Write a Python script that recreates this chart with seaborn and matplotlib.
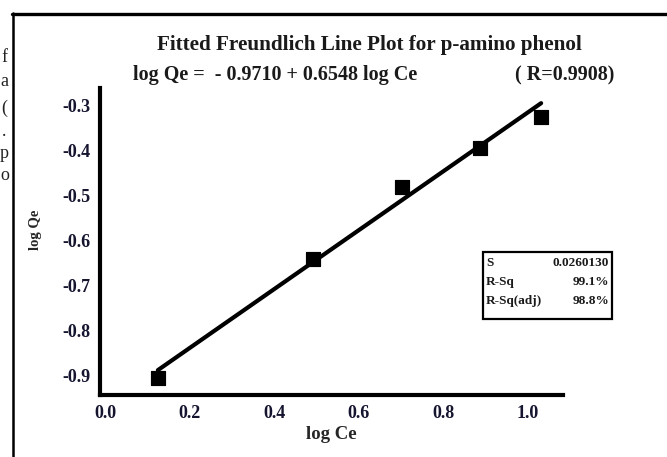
import matplotlib
matplotlib.use("Agg")
import matplotlib.pyplot as plt
from matplotlib.lines import Line2D
from matplotlib.patches import Rectangle
import seaborn as sns
import pandas as pd
import numpy as np

# ---- data ----
log_ce = [0.125, 0.492, 0.702, 0.887, 1.031]
log_qe = [-0.907, -0.642, -0.482, -0.396, -0.327]
intercept = -0.9710
slope = 0.6548
x_ticks = [0.0, 0.2, 0.4, 0.6, 0.8, 1.0]
y_ticks = [-0.9, -0.8, -0.7, -0.6, -0.5, -0.4, -0.3]
stat_names = ["S", "R-Sq", "R-Sq(adj)"]
stat_values = ["0.0260130", "99.1%", "98.8%"]
side_letters = ["f", "a", "(", ".", "p", "o"]

W, H = 667, 457
def fx(x):
    return x / W
def fy(y):
    return 1 - y / H

sns.set_theme(style="white")
plt.rcParams["font.family"] = ["Liberation Serif", "DejaVu Serif"]

fig = plt.figure(figsize=(W / 100, H / 100), dpi=100)
ax = fig.add_axes([fx(100), fy(395), (563 - 100) / W, (395 - 88) / H])

df = pd.DataFrame({"log Ce": log_ce, "log Qe": log_qe})
xfit = np.array([min(log_ce), max(log_ce)])
fit = pd.DataFrame({"x": xfit, "y": intercept + slope * xfit})

sns.lineplot(data=fit, x="x", y="y", ax=ax, color="black", linewidth=3.0)
sns.scatterplot(data=df, x="log Ce", y="log Qe", ax=ax, marker="s", s=110,
                color="black", edgecolor="black", zorder=5)

ax.set_xlim(-0.0118, 1.0827)
ax.set_ylim(-0.9444, -0.2622)
ax.set_xticks(x_ticks)
ax.set_xticklabels([f"{v:.1f}" for v in x_ticks])
ax.set_yticks(y_ticks)
ax.set_yticklabels([f"{v:.1f}" for v in y_ticks])
for s in ["top", "right"]:
    ax.spines[s].set_visible(False)
for s in ["left", "bottom"]:
    ax.spines[s].set_linewidth(3)
    ax.spines[s].set_color("black")
ax.tick_params(axis="both", direction="out", length=3, width=3, color="black",
               labelsize=13, labelcolor="#151530", pad=4)
for lab in ax.get_xticklabels() + ax.get_yticklabels():
    lab.set_fontweight("bold")
ax.set_xlabel("log Ce", fontsize=13.5, fontweight="bold", labelpad=3)
ax.set_ylabel("")
fig.text(fx(36), fy(230), "log Qe", rotation=90, fontsize=10.5, fontweight="bold",
         ha="center", va="center")

# titles
fig.text(fx(369), fy(45), "Fitted Freundlich Line Plot for p-amino phenol",
         fontsize=15.2, fontweight="bold", ha="center", va="center", color="#1a1a1a")
fig.text(fx(133), fy(75), "log Qe =  - 0.9710 + 0.6548 log Ce",
         fontsize=14.5, fontweight="bold", ha="left", va="center", color="#1a1a1a")
fig.text(fx(614), fy(75), "( R=0.9908)",
         fontsize=14.5, fontweight="bold", ha="right", va="center", color="#1a1a1a")

# stats box
bx0, by0, bx1, by1 = 483, 252, 612, 319
fig.add_artist(Rectangle((fx(bx0), fy(by1)), (bx1 - bx0) / W, (by1 - by0) / H,
                         transform=fig.transFigure, fill=False,
                         edgecolor="black", linewidth=1.6))
rows_y = [263, 282, 301]
for name, val, yy in zip(stat_names, stat_values, rows_y):
    fig.text(fx(486), fy(yy), name, fontsize=9.5, fontweight="bold",
             ha="left", va="center", color="#1a1a1a")
    fig.text(fx(609), fy(yy), val, fontsize=9.5, fontweight="bold",
             ha="right", va="center", color="#1a1a1a")

# page frame
fig.add_artist(Line2D([fx(12), fx(667)], [fy(14), fy(14)], transform=fig.transFigure,
                      color="black", linewidth=2.4))
fig.add_artist(Line2D([fx(13), fx(13)], [fy(13), fy(457)], transform=fig.transFigure,
                      color="black", linewidth=1.8))

# cut-off document letters at the left edge
letter_y = [57, 82, 108, 131, 153, 176]
letter_x = [1, 0, 1, 2, 0, 0]
for ch, lx, ly in zip(side_letters, letter_x, letter_y):
    fig.text(fx(lx), fy(ly), ch, fontsize=13, ha="left", va="center", color="#222222")

fig.savefig("out.png", dpi=100)
